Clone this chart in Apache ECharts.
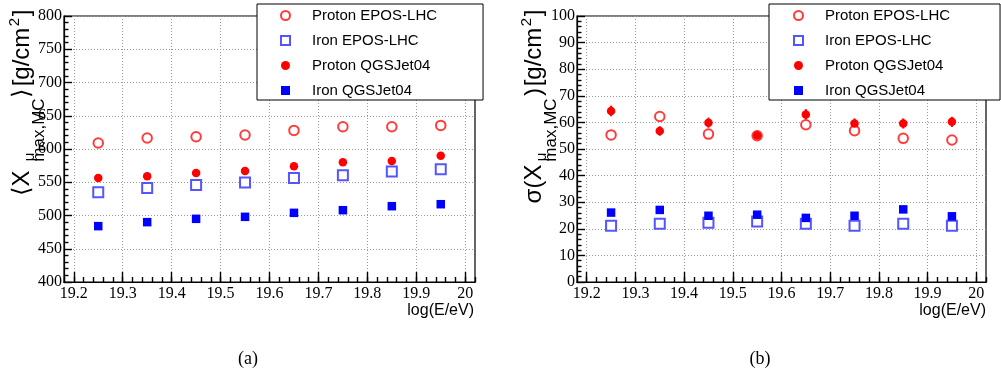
<!DOCTYPE html>
<html>
<head>
<meta charset="utf-8">
<script src="https://cdn.jsdelivr.net/npm/echarts@6/dist/echarts.min.js"></script>
<style>
  html, body { margin: 0; padding: 0; background: #fff; }
  #chart { width: 1001px; height: 377px; }
</style>
</head>
<body>
<div id="chart"></div>
<script>
// Energy bin centres, log10(E/eV)
const energy = [19.25, 19.35, 19.45, 19.55, 19.65, 19.75, 19.85, 19.95];

// Mean muon production depth <X^mu_max,MC> [g/cm^2]
const meanProtonEpos = [609, 616.5, 618.5, 621, 628, 633.5, 633.5, 635.5];
const meanIronEpos   = [535, 541.5, 546, 549.5, 556.5, 560.5, 566, 569.5];
const meanProtonQgs  = [556.5, 559, 564, 567, 574, 580, 582, 590];
const meanIronQgs    = [484, 490, 495, 498, 504, 508, 514, 517];

// Fluctuations sigma(X^mu_max,MC) [g/cm^2] and their uncertainties
const sigmaProtonEpos = [55.3, 62.2, 55.6, 55.0, 59.1, 56.9, 54.0, 53.4];
const sigmaIronEpos   = [21.1, 21.9, 22.3, 22.7, 21.9, 21.1, 21.9, 21.1];
const sigmaProtonQgs  = [64.3, 56.8, 59.9, 55.1, 63.0, 59.6, 59.6, 60.2];
const sigmaIronQgs    = [26.1, 27.1, 24.9, 25.3, 24.1, 24.9, 27.3, 24.7];
const sigmaErrProtonEpos = [1.7, 1.7, 1.7, 1.7, 1.8, 1.7, 1.7, 1.7];
const sigmaErrIronEpos   = [0.8, 0.8, 0.8, 0.8, 0.8, 0.8, 0.8, 0.8];
const sigmaErrProtonQgs  = [2.0, 1.8, 1.9, 1.9, 2.0, 1.9, 1.9, 1.9];
const sigmaErrIronQgs    = [0.9, 0.9, 0.9, 0.9, 0.9, 0.9, 0.9, 0.9];

// Axis ticks
const energyTicks = [19.2, 19.3, 19.4, 19.5, 19.6, 19.7, 19.8, 19.9, 20.0];
const seriesNames = ['Proton EPOS-LHC', 'Iron EPOS-LHC', 'Proton QGSJet04', 'Iron QGSJet04'];

const SANS = '"Liberation Sans", Arial, Helvetica, sans-serif';
const SERIF = '"Liberation Serif", "Times New Roman", serif';

const styles = {
  'Proton EPOS-LHC': { symbol: 'emptyCircle', size: 9.5, color: '#ff3b3b', border: 1.1 },
  'Iron EPOS-LHC':   { symbol: 'emptyRect',   size: 10,  color: '#5555ff', border: 1.2 },
  'Proton QGSJet04': { symbol: 'circle',      size: 8.5, color: '#ff0000', border: 0 },
  'Iron QGSJet04':   { symbol: 'rect',        size: 8.5, color: '#0000ff', border: 0 }
};

const pair = (ys) => energy.map((x, i) => [x, ys[i]]);

function scatter(name, ys, gi) {
  const s = styles[name];
  return {
    type: 'scatter', name: name, xAxisIndex: gi * 2, yAxisIndex: gi,
    symbol: s.symbol, symbolSize: s.size, z: 3,
    itemStyle: { color: s.color, borderColor: s.color, borderWidth: s.border, opacity: 1 },
    emphasis: { disabled: true },
    data: pair(ys)
  };
}

function errorBars(name, ys, errs, gi) {
  const color = styles[name].color;
  return {
    type: 'custom', name: name + ' (stat.)', xAxisIndex: gi * 2, yAxisIndex: gi, z: 2,
    silent: true,
    data: energy.map((x, i) => [x, ys[i], errs[i]]),
    encode: { x: 0, y: 1 },
    renderItem: function (params, api) {
      const x = api.value(0), y = api.value(1), e = api.value(2);
      const p1 = api.coord([x, y - e]);
      const p2 = api.coord([x, y + e]);
      return {
        type: 'line',
        shape: { x1: p1[0], y1: p1[1], x2: p2[0], y2: p2[1] },
        style: { stroke: color, lineWidth: 2 }
      };
    }
  };
}

const gridDots = { show: true, lineStyle: { color: '#9a9a9a', width: 1, type: [1, 2] } };
const tickLine = { color: '#000', width: 1.4 };

function mainXAxis(gi) {
  return {
    type: 'value', gridIndex: gi, position: 'bottom', min: 19.18, max: 20.02,
    axisLine: { show: true, onZero: false, lineStyle: { color: '#000', width: 1.2 } },
    axisTick: { show: true, inside: true, length: 10, customValues: energyTicks, lineStyle: tickLine },
    axisLabel: {
      show: true, customValues: energyTicks, margin: 4, color: '#000',
      fontFamily: SERIF, fontSize: 16,
      formatter: (v) => String(Math.round(v * 10) / 10)
    },
    splitLine: gridDots
  };
}

// Second axis on the same edge, carrying only the minor ticks (every 0.02)
function minorXAxis(gi) {
  return {
    type: 'value', gridIndex: gi, position: 'bottom', offset: 0, min: 19.18, max: 20.02, interval: 0.02,
    axisLine: { show: true, onZero: false, lineStyle: { color: '#000', width: 1.2 } },
    axisTick: { show: true, inside: true, length: 5, lineStyle: tickLine },
    axisLabel: { show: false },
    splitLine: { show: false }
  };
}

function yAxis(gi, min, max, interval) {
  return {
    type: 'value', gridIndex: gi, min: min, max: max, interval: interval,
    axisLine: { show: true, onZero: false, lineStyle: { color: '#000', width: 1.2 } },
    axisTick: { show: true, inside: true, length: 8, lineStyle: tickLine },
    minorTick: { show: true, splitNumber: 5, length: 4.5, lineStyle: tickLine },
    axisLabel: { show: true, margin: 2, color: '#000', fontFamily: SERIF, fontSize: 16 },
    splitLine: gridDots
  };
}

function legend(left, padding, textPad) {
  return {
    show: true, orient: 'vertical', left: left, top: 4,
    data: seriesNames, selectedMode: false,
    backgroundColor: '#fff', borderColor: '#000', borderWidth: 1, borderRadius: 0,
    padding: padding, itemGap: 10, itemWidth: 9, itemHeight: 9,
    textStyle: { fontFamily: SANS, fontSize: 15, color: '#000', lineHeight: 15, padding: [0, 0, 0, textPad] },
    z: 10
  };
}

// Rotated axis title built from pieces so that super/subscripts sit correctly
function rotText(text, x, y, size, family) {
  return {
    type: 'text', x: x, y: y, rotation: Math.PI / 2, z: 20,
    style: {
      text: text, fill: '#000', font: size + 'px ' + (family || SANS),
      textAlign: 'center', textVerticalAlign: 'middle', align: 'center', verticalAlign: 'middle'
    }
  };
}

function yTitle(dx, lead) {
  const parts = [];
  if (lead === 'mean') {
    parts.push(rotText('\u27E8X', 22 + dx, 183, 24));
    parts.push(rotText('\u27E9', 22 + dx, 93, 24));
  } else {
    parts.push(rotText('\u03C3(X', 22 + dx, 184, 24));
    parts.push(rotText(')', 22 + dx, 92, 24));
  }
  parts.push(rotText('\u03BC', 30 + dx, 157, 15));
  parts.push(rotText('max,MC', 39 + dx, 130, 17));
  parts.push(rotText('[g/cm', 22 + dx, 57, 24));
  parts.push(rotText('2', 15 + dx, 22, 15));
  parts.push(rotText(']', 22 + dx, 13, 24));
  return parts;
}

const chart = echarts.init(document.getElementById('chart'), null, { renderer: 'canvas' });

const option = {
  animation: false,
  backgroundColor: '#fff',
  grid: [
    { left: 64, top: 16, width: 411, height: 266, show: true, borderColor: '#000', borderWidth: 1.2, backgroundColor: 'transparent', containLabel: false, outerBoundsMode: 'none' },
    { left: 577, top: 16, width: 409, height: 266, show: true, borderColor: '#000', borderWidth: 1.2, backgroundColor: 'transparent', containLabel: false, outerBoundsMode: 'none' }
  ],
  xAxis: [mainXAxis(0), minorXAxis(0), mainXAxis(1), minorXAxis(1)],
  yAxis: [yAxis(0, 400, 800, 50), yAxis(1, 0, 100, 10)],
  legend: [
    legend(257, [4, 46, 2, 23], 17),
    legend(769, [4, 50, 2, 24], 17)
  ],
  series: [
    scatter('Proton EPOS-LHC', meanProtonEpos, 0),
    scatter('Iron EPOS-LHC', meanIronEpos, 0),
    scatter('Proton QGSJet04', meanProtonQgs, 0),
    scatter('Iron QGSJet04', meanIronQgs, 0),
    errorBars('Proton EPOS-LHC', sigmaProtonEpos, sigmaErrProtonEpos, 1),
    errorBars('Iron EPOS-LHC', sigmaIronEpos, sigmaErrIronEpos, 1),
    errorBars('Proton QGSJet04', sigmaProtonQgs, sigmaErrProtonQgs, 1),
    errorBars('Iron QGSJet04', sigmaIronQgs, sigmaErrIronQgs, 1),
    scatter('Proton EPOS-LHC', sigmaProtonEpos, 1),
    scatter('Iron EPOS-LHC', sigmaIronEpos, 1),
    scatter('Proton QGSJet04', sigmaProtonQgs, 1),
    scatter('Iron QGSJet04', sigmaIronQgs, 1)
  ],
  graphic: [].concat(
    yTitle(0, 'mean'),
    yTitle(512, 'sigma'),
    [
      { type: 'text', x: 474, y: 311, z: 20, style: { text: 'log(E/eV)', fill: '#000', font: '16px ' + SANS, textAlign: 'right', textVerticalAlign: 'middle', align: 'right', verticalAlign: 'middle' } },
      { type: 'text', x: 986, y: 311, z: 20, style: { text: 'log(E/eV)', fill: '#000', font: '16px ' + SANS, textAlign: 'right', textVerticalAlign: 'middle', align: 'right', verticalAlign: 'middle' } },
      { type: 'text', x: 248, y: 359, z: 20, style: { text: '(a)', fill: '#000', font: '18px ' + SERIF, textAlign: 'center', textVerticalAlign: 'middle', align: 'center', verticalAlign: 'middle' } },
      { type: 'text', x: 760, y: 359, z: 20, style: { text: '(b)', fill: '#000', font: '18px ' + SERIF, textAlign: 'center', textVerticalAlign: 'middle', align: 'center', verticalAlign: 'middle' } }
    ]
  )
};

chart.setOption(option);
</script>
</body>
</html>
